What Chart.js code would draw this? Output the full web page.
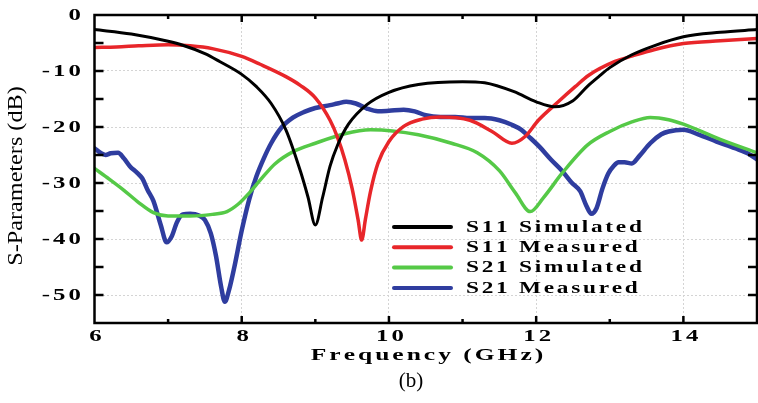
<!DOCTYPE html>
<html>
<head>
<meta charset="utf-8">
<script src="https://cdn.jsdelivr.net/npm/chart.js@4.4.1/dist/chart.umd.min.js"></script>
<style>
  html, body { margin: 0; padding: 0; background: #ffffff; }
  #wrap { position: relative; width: 758px; height: 403px; }
  canvas { display: block; }
</style>
</head>
<body>
<div id="wrap"><canvas id="c" width="758" height="403"></canvas></div>
<script>
// ---------------- data ----------------
const xTickValues = [6, 8, 10, 12, 14];
const yTickValues = [0, -10, -20, -30, -40, -50];
const xTickLabels = ['6', '8', '10', '12', '14'];
const yTickLabels = ['0', '-10', '-20', '-30', '-40', '-50'];

const seriesNames = ['S11 Simulated', 'S11 Measured', 'S21 Simulated', 'S21 Measured'];

const s11SimFreq = [6.0, 6.5, 7.0, 7.2, 7.5, 7.7, 8.0, 8.2, 8.4, 8.6, 8.8, 8.9, 9.0, 9.1, 9.2, 9.3, 9.45, 9.7, 10.0, 10.4, 11.0, 11.3, 11.7, 12.0, 12.25, 12.5, 12.7, 12.85, 13.0, 13.3, 13.6, 14.0, 14.5, 15.0];
const s11SimDb   = [-2.6, -3.4, -4.7, -5.4, -6.9, -8.3, -10.6, -12.8, -15.8, -20.5, -28.0, -32.5, -37.5, -32.5, -27.0, -23.3, -19.5, -16.0, -13.8, -12.4, -11.9, -12.1, -13.7, -15.5, -16.4, -15.3, -12.7, -11.0, -9.4, -7.1, -5.5, -3.9, -3.1, -2.6];

const s11MeasFreq = [6.0, 6.3, 6.6, 7.0, 7.3, 7.6, 8.0, 8.25, 8.6, 8.8, 9.0, 9.2, 9.3, 9.4, 9.5, 9.58, 9.63, 9.68, 9.75, 9.85, 10.0, 10.2, 10.45, 10.7, 11.1, 11.4, 11.67, 11.85, 12.03, 12.3, 12.53, 12.71, 13.07, 13.31, 13.6, 14.0, 14.5, 15.0];
const s11MeasDb   = [-5.8, -5.7, -5.5, -5.3, -5.5, -6.0, -7.4, -8.8, -11.0, -12.6, -14.8, -18.8, -21.8, -25.8, -31.0, -36.5, -40.2, -36.5, -31.5, -26.5, -22.6, -19.9, -18.6, -18.2, -18.8, -20.8, -22.9, -21.7, -18.8, -15.5, -12.8, -10.8, -8.3, -7.3, -6.2, -5.1, -4.6, -4.2];

const s21SimFreq = [6.0, 6.2, 6.4, 6.6, 6.8, 7.0, 7.3, 7.6, 7.8, 7.95, 8.1, 8.25, 8.45, 8.7, 9.0, 9.4, 9.75, 10.05, 10.4, 10.85, 11.2, 11.5, 11.72, 11.92, 12.1, 12.35, 12.7, 13.0, 13.3, 13.55, 13.8, 14.0, 14.5, 15.0];
const s21SimDb   = [-27.4, -29.3, -31.3, -33.5, -35.3, -35.9, -35.9, -35.6, -35.1, -33.8, -31.8, -29.5, -26.6, -24.4, -22.9, -21.2, -20.5, -20.7, -21.4, -22.9, -24.6, -27.8, -31.8, -35.1, -32.6, -28.3, -23.2, -20.8, -19.1, -18.3, -18.7, -19.5, -22.2, -24.6];

const s21MeasFreq = [6.0, 6.08, 6.15, 6.22, 6.32, 6.4, 6.48, 6.58, 6.65, 6.72, 6.8, 6.9, 6.98, 7.05, 7.12, 7.2, 7.3, 7.42, 7.5, 7.58, 7.65, 7.72, 7.77, 7.83, 7.9, 8.0, 8.1, 8.2, 8.3, 8.4, 8.54, 8.7, 8.85, 9.0, 9.2, 9.3, 9.42, 9.55, 9.7, 9.85, 10.0, 10.2, 10.35, 10.5, 10.7, 10.9, 11.1, 11.3, 11.5, 11.67, 11.8, 11.9, 12.05, 12.2, 12.35, 12.48, 12.6, 12.68, 12.75, 12.82, 12.9, 12.98, 13.05, 13.12, 13.2, 13.3, 13.4, 13.55, 13.7, 13.8, 14.0, 14.2, 14.45, 14.7, 14.9, 15.0];
const s21MeasDb   = [-23.8, -24.6, -25.0, -24.7, -24.6, -25.6, -27.0, -28.2, -29.2, -31.2, -33.2, -37.5, -40.6, -39.5, -37.0, -35.6, -35.5, -35.8, -36.6, -39.0, -43.0, -48.5, -51.2, -49.0, -45.0, -38.5, -33.0, -28.8, -25.6, -22.9, -20.1, -18.3, -17.3, -16.6, -16.1, -15.8, -15.5, -15.8, -16.7, -17.2, -17.1, -16.9, -17.2, -17.9, -18.2, -18.2, -18.4, -18.4, -18.8, -19.6, -20.5, -21.7, -23.6, -25.8, -27.8, -29.9, -31.5, -34.0, -35.5, -34.5, -31.0, -28.3, -27.0, -26.3, -26.3, -26.5, -25.2, -22.9, -21.3, -20.8, -20.5, -21.3, -22.6, -23.8, -24.9, -25.8];

// ---------------- helpers ----------------
function pts(xs, ys) { return xs.map((x, i) => ({ x: x, y: ys[i] })); }

const SERIF = '"Liberation Serif", "Times New Roman", serif';

// draws text horizontally stretched, with manual letter spacing (char by char)
function spacedText(ctx, text, x, y, sx, align, font, sp) {
  ctx.save();
  ctx.font = font;
  ctx.fillStyle = '#000';
  ctx.textBaseline = 'middle';
  ctx.textAlign = 'left';
  const chars = Array.from(text);
  const widths = chars.map(ch => ctx.measureText(ch).width);
  const total = widths.reduce((s, w) => s + w, 0) + sp * (chars.length - 1);
  let cur = align === 'center' ? -total / 2 : (align === 'right' ? -total : 0);
  ctx.translate(x, y);
  ctx.scale(sx, 1);
  chars.forEach((ch, i) => {
    ctx.fillText(ch, cur, 0);
    cur += widths[i] + sp;
  });
  ctx.restore();
}

const decorPlugin = {
  id: 'decor',
  afterDraw(chart) {
    const ctx = chart.ctx;
    const a = chart.chartArea;
    const xs = chart.scales.x, ys = chart.scales.y;

    ctx.save();
    ctx.strokeStyle = '#000';
    ctx.lineCap = 'butt';
    ctx.lineWidth = 2.5;
    for (let f = 7; f <= 14; f++) {
      const px = xs.getPixelForValue(f);
      const len = (f % 2 === 0) ? 7 : 4;
      ctx.beginPath();
      ctx.moveTo(px, a.bottom); ctx.lineTo(px, a.bottom - len);
      ctx.moveTo(px, a.top); ctx.lineTo(px, a.top + len);
      ctx.stroke();
    }
    for (let v = -50; v <= -5; v += 5) {
      const py = ys.getPixelForValue(v);
      ctx.beginPath();
      ctx.moveTo(a.left, py); ctx.lineTo(a.left + 9, py);
      ctx.moveTo(a.right, py); ctx.lineTo(a.right - 9, py);
      ctx.stroke();
    }
    ctx.lineWidth = 2.5;
    ctx.strokeRect(a.left, a.top, a.right - a.left, a.bottom - a.top);
    ctx.restore();

    // tick labels
    const tickFont = 'bold 16px ' + SERIF;
    xTickValues.forEach((v, i) => {
      spacedText(ctx, xTickLabels[i], xs.getPixelForValue(v) + 1, 337, 1.55, 'center', tickFont, 2);
    });
    yTickValues.forEach((v, i) => {
      spacedText(ctx, yTickLabels[i], 81, ys.getPixelForValue(v) + 1, 1.55, 'right', tickFont, 2);
    });

    // x axis title
    spacedText(ctx, 'Frequency (GHz)', 427, 356, 1.5, 'center', 'bold 17px ' + SERIF, 2);

    // y axis title (rotated)
    ctx.save();
    ctx.font = '20px ' + SERIF;
    ctx.fillStyle = '#000';
    ctx.textAlign = 'center';
    ctx.textBaseline = 'middle';
    ctx.translate(17, 176);
    ctx.rotate(-Math.PI / 2);
    ctx.scale(1.21, 1);
    ctx.fillText('S-Parameters (dB)', 0, 0);
    ctx.restore();

    // caption
    ctx.save();
    ctx.font = '21px ' + SERIF;
    ctx.fillStyle = '#000';
    ctx.textAlign = 'center';
    ctx.textBaseline = 'middle';
    ctx.fillText('(b)', 411, 381);
    ctx.restore();

    // legend
    chart.data.datasets.forEach((d, i) => {
      const y = 227 + i * 20.3;
      ctx.save();
      ctx.strokeStyle = d.borderColor;
      ctx.lineWidth = 4;
      ctx.lineCap = 'round';
      ctx.beginPath();
      ctx.moveTo(394, y); ctx.lineTo(451, y);
      ctx.stroke();
      ctx.restore();
      spacedText(ctx, d.label, 466, y + 0.5, 1.37, 'left', 'bold 17px ' + SERIF, 2);
    });
  }
};

const gridColor = (c) => {
  const v = c.tick ? c.tick.value : null;
  if (v === 0 || v === 6 || v === 15 || v === -55) return 'rgba(0,0,0,0)';
  return '#d4d4d4';
};

new Chart(document.getElementById('c'), {
  type: 'line',
  data: {
    datasets: [
      { label: seriesNames[0], data: pts(s11SimFreq, s11SimDb), borderColor: '#000000', borderWidth: 3 },
      { label: seriesNames[1], data: pts(s11MeasFreq, s11MeasDb), borderColor: '#e8262a', borderWidth: 3.5 },
      { label: seriesNames[2], data: pts(s21SimFreq, s21SimDb), borderColor: '#55c947', borderWidth: 3.5 },
      { label: seriesNames[3], data: pts(s21MeasFreq, s21MeasDb), borderColor: '#2f3d9f', borderWidth: 4.5 }
    ]
  },
  options: {
    responsive: false,
    animation: false,
    devicePixelRatio: 1,
    layout: { padding: { left: 0, right: 1, top: 15, bottom: 0 } },
    elements: {
      point: { radius: 0, hoverRadius: 0 },
      line: { cubicInterpolationMode: 'monotone', fill: false, borderCapStyle: 'round', borderJoinStyle: 'round' }
    },
    plugins: { legend: { display: false }, tooltip: { enabled: false }, title: { display: false } },
    scales: {
      x: {
        type: 'linear', min: 6, max: 15,
        afterBuildTicks: (s) => { s.ticks = xTickValues.map(v => ({ value: v })); },
        afterFit: (s) => { s.height = 80; },
        ticks: { display: false },
        grid: { color: gridColor, lineWidth: 1, drawTicks: false },
        border: { display: false, dash: [2, 2] }
      },
      y: {
        type: 'linear', min: -55, max: 0,
        afterBuildTicks: (s) => { s.ticks = yTickValues.map(v => ({ value: v })); },
        afterFit: (s) => { s.width = 94.5; },
        ticks: { display: false },
        grid: { color: gridColor, lineWidth: 1, drawTicks: false },
        border: { display: false, dash: [2, 2] }
      }
    }
  },
  plugins: [decorPlugin]
});
</script>
</body>
</html>
